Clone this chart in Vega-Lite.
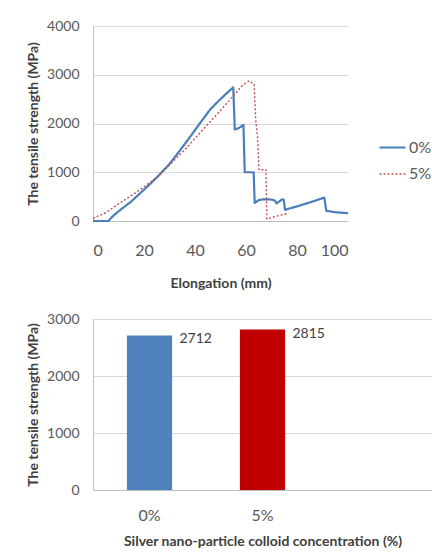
{
  "$schema": "https://vega.github.io/schema/vega-lite/v6.json",
  "background": "white",
  "padding": {"left": 26, "top": 19, "right": 0, "bottom": 0},
  "spacing": 22,
  "config": {
    "font": "Lato",
    "view": {"stroke": null},
    "axis": {
      "labelFont": "Lato",
      "titleFont": "Lato",
      "labelColor": "#595959",
      "titleColor": "#404040",
      "titleFontWeight": "bold",
      "titleFontSize": 14,
      "labelFontSize": 14,
      "domainColor": "#bfbfbf",
      "gridColor": "#d9d9d9",
      "ticks": false
    },
    "legend": {"labelFont": "Lato", "labelColor": "#595959"}
  },
  "resolve": {"scale": {"color": "independent", "strokeDash": "independent", "strokeWidth": "independent"}, "legend": {"color": "independent"}},
  "vconcat": [
    {
      "width": 255,
      "height": 195,
      "data": {
        "values": [
          {"series": "0%", "elongation": 0, "strength": 0},
          {"series": "0%", "elongation": 6, "strength": 0},
          {"series": "0%", "elongation": 8, "strength": 110},
          {"series": "0%", "elongation": 11, "strength": 240},
          {"series": "0%", "elongation": 15, "strength": 400},
          {"series": "0%", "elongation": 18.5, "strength": 570},
          {"series": "0%", "elongation": 22, "strength": 740},
          {"series": "0%", "elongation": 25.5, "strength": 920},
          {"series": "0%", "elongation": 30, "strength": 1170},
          {"series": "0%", "elongation": 34, "strength": 1440},
          {"series": "0%", "elongation": 38, "strength": 1720},
          {"series": "0%", "elongation": 42, "strength": 2010},
          {"series": "0%", "elongation": 46, "strength": 2290},
          {"series": "0%", "elongation": 49, "strength": 2450},
          {"series": "0%", "elongation": 52, "strength": 2600},
          {"series": "0%", "elongation": 55, "strength": 2740},
          {"series": "0%", "elongation": 55.6, "strength": 1880},
          {"series": "0%", "elongation": 57, "strength": 1900},
          {"series": "0%", "elongation": 59, "strength": 1970},
          {"series": "0%", "elongation": 59.5, "strength": 1000},
          {"series": "0%", "elongation": 63, "strength": 1000},
          {"series": "0%", "elongation": 63.4, "strength": 370},
          {"series": "0%", "elongation": 65, "strength": 430},
          {"series": "0%", "elongation": 67, "strength": 445},
          {"series": "0%", "elongation": 70, "strength": 440},
          {"series": "0%", "elongation": 71.3, "strength": 420},
          {"series": "0%", "elongation": 72, "strength": 360},
          {"series": "0%", "elongation": 74.2, "strength": 445},
          {"series": "0%", "elongation": 74.8, "strength": 440},
          {"series": "0%", "elongation": 75.3, "strength": 230},
          {"series": "0%", "elongation": 80, "strength": 300},
          {"series": "0%", "elongation": 85, "strength": 380},
          {"series": "0%", "elongation": 90.7, "strength": 480},
          {"series": "0%", "elongation": 91.5, "strength": 210},
          {"series": "0%", "elongation": 95, "strength": 180},
          {"series": "0%", "elongation": 100, "strength": 160},
          {"series": "5%", "elongation": 0, "strength": 55},
          {"series": "5%", "elongation": 5, "strength": 170},
          {"series": "5%", "elongation": 10, "strength": 350},
          {"series": "5%", "elongation": 15, "strength": 520},
          {"series": "5%", "elongation": 20, "strength": 700},
          {"series": "5%", "elongation": 25.5, "strength": 910},
          {"series": "5%", "elongation": 30, "strength": 1150},
          {"series": "5%", "elongation": 36.5, "strength": 1490},
          {"series": "5%", "elongation": 43, "strength": 1870},
          {"series": "5%", "elongation": 49.5, "strength": 2240},
          {"series": "5%", "elongation": 54.8, "strength": 2550},
          {"series": "5%", "elongation": 58.7, "strength": 2790},
          {"series": "5%", "elongation": 61.3, "strength": 2875},
          {"series": "5%", "elongation": 63.2, "strength": 2800},
          {"series": "5%", "elongation": 63.8, "strength": 2070},
          {"series": "5%", "elongation": 64.5, "strength": 1750},
          {"series": "5%", "elongation": 65.1, "strength": 1050},
          {"series": "5%", "elongation": 67.8, "strength": 1050},
          {"series": "5%", "elongation": 68.2, "strength": 40},
          {"series": "5%", "elongation": 72, "strength": 100},
          {"series": "5%", "elongation": 76.7, "strength": 160}
        ]
      },
      "mark": {"type": "line", "strokeJoin": "round"},
      "encoding": {
        "x": {
          "field": "elongation", "type": "quantitative",
          "scale": {"domain": [0, 100], "nice": false},
          "axis": {"title": "Elongation (mm)", "values": [0, 20, 40, 60, 80, 100], "grid": false, "labelFontSize": 16, "labelPadding": 21, "titlePadding": 18}
        },
        "y": {
          "field": "strength", "type": "quantitative",
          "scale": {"domain": [0, 4000], "nice": false},
          "axis": {"title": "The tensile strength (MPa)", "values": [0, 1000, 2000, 3000, 4000], "format": "d", "grid": true, "labelPadding": 14, "titlePadding": 6}
        },
        "color": {
          "field": "series", "type": "nominal",
          "scale": {"domain": ["0%", "5%"], "range": ["#4a7ebb", "#c0504d"]},
          "legend": {"title": null, "orient": "none", "legendX": 285, "legendY": 107, "symbolType": "stroke", "symbolSize": 676, "labelFontSize": 16, "rowPadding": 4, "labelOffset": 2, "symbolStrokeWidth": 1.6}
        },
        "strokeDash": {
          "field": "series", "type": "nominal",
          "scale": {"domain": ["0%", "5%"], "range": [[1, 0], [2, 2]]}
        },
        "strokeWidth": {
          "field": "series", "type": "nominal",
          "scale": {"domain": ["0%", "5%"], "range": [2.2, 1.4]}
        }
      }
    },
    {
      "width": 339,
      "height": 171,
      "data": {
        "values": [
          {"concentration": "0%", "strength": 2712},
          {"concentration": "5%", "strength": 2815}
        ]
      },
      "encoding": {
        "x": {
          "field": "concentration", "type": "nominal",
          "scale": {"domain": ["0%", "5%", ""], "paddingInner": 0.6, "paddingOuter": 0.3},
          "axis": {"title": "Silver nano-particle colloid concentration (%)", "labelAngle": 0, "labelFontSize": 16, "labelPadding": 17, "titlePadding": 11}
        },
        "y": {
          "field": "strength", "type": "quantitative",
          "scale": {"domain": [0, 3000], "nice": false},
          "axis": {"title": "The tensile strength (MPa)", "values": [0, 1000, 2000, 3000], "format": "d", "grid": true, "labelPadding": 14, "titlePadding": 6}
        }
      },
      "layer": [
        {
          "mark": {"type": "bar"},
          "encoding": {
            "color": {
              "field": "concentration", "type": "nominal",
              "scale": {"domain": ["0%", "5%"], "range": ["#4f81bd", "#c00000"]},
              "legend": null
            }
          }
        },
        {
          "mark": {"type": "text", "align": "left", "baseline": "middle", "dx": 30, "dy": 4, "fontSize": 14, "color": "#404040"},
          "encoding": {
            "text": {"field": "strength", "type": "quantitative", "format": "d"}
          }
        }
      ]
    }
  ]
}
